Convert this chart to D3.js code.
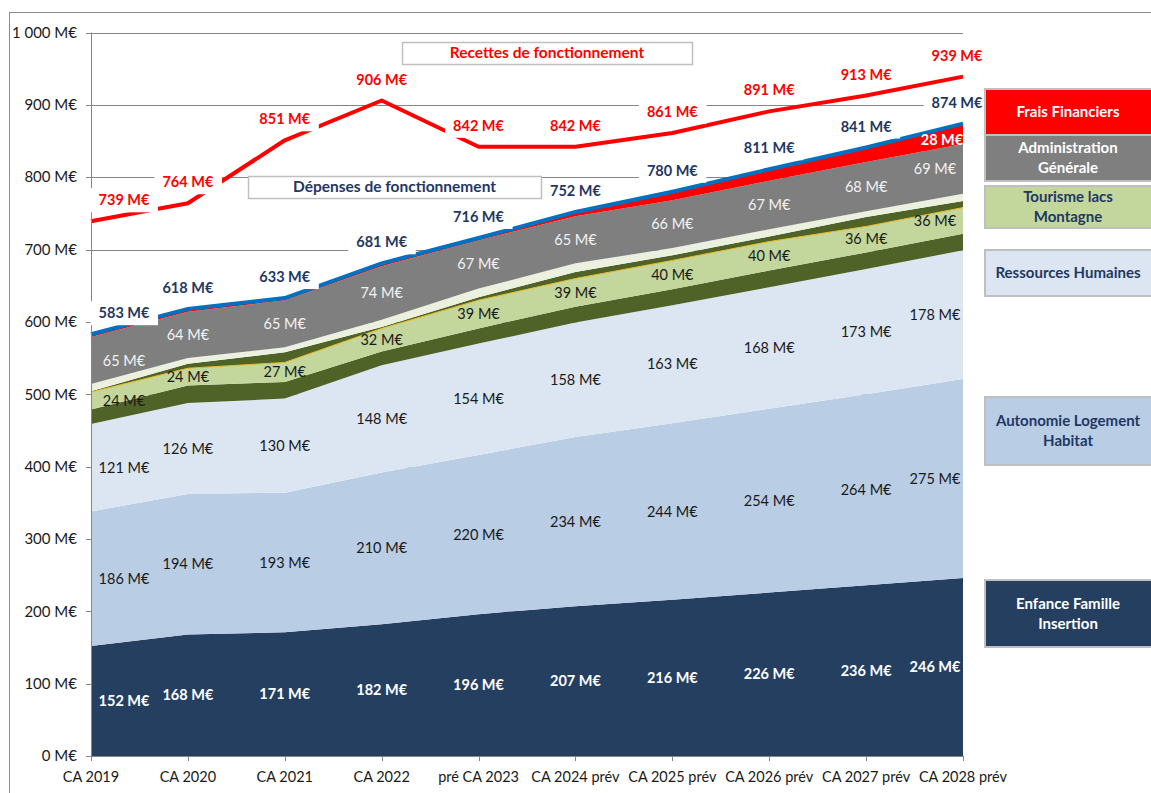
<!DOCTYPE html>
<html>
<head>
<meta charset="utf-8">
<script src="https://cdn.jsdelivr.net/npm/d3@7"></script>
<style>
  body { margin: 0; background: #fff; }
  svg { display: block; font-family: Lato, "Open Sans", sans-serif; }
</style>
</head>
<body>
<svg id="chart" width="1151" height="793"></svg>
<script>
// values (M€)
const categories = ["CA 2019", "CA 2020", "CA 2021", "CA 2022", "pré CA 2023",
                    "CA 2024 prév", "CA 2025 prév", "CA 2026 prév", "CA 2027 prév", "CA 2028 prév"];
const enfance         = [152, 168, 171, 182, 196, 207, 216, 226, 236, 246];
const autonomie       = [186, 194, 193, 210, 220, 234, 244, 254, 264, 275];
const ressources      = [121, 126, 130, 148, 154, 158, 163, 168, 173, 178];
const oliveBas        = [20, 24, 23, 19, 21, 22, 22, 23, 23, 23];
const tourisme        = [24, 24, 27, 32, 39, 39, 40, 40, 36, 36];
const oliveHaut       = [1, 6, 14, 2, 4, 9, 7, 7, 13, 9];
const creme           = [10, 8, 7, 10, 12, 12, 10, 10, 8, 10];
const administration  = [65, 64, 65, 74, 67, 65, 66, 67, 68, 69];
const fraisFinanciers = [4, 4, 3, 4, 3, 6, 12, 16, 20, 28];
const depenses        = [583, 618, 633, 681, 716, 752, 780, 811, 841, 874];
const recettes        = [739, 764, 851, 906, 842, 842, 861, 891, 913, 939];
const yTicks = [0, 100, 200, 300, 400, 500, 600, 700, 800, 900, 1000];
const yTickLabels = ["0 M€", "100 M€", "200 M€", "300 M€", "400 M€", "500 M€",
                     "600 M€", "700 M€", "800 M€", "900 M€", "1 000 M€"];

const legendNames = [
  ["Frais Financiers"],
  ["Administration", "Générale"],
  ["Tourisme lacs", "Montagne"],
  ["Ressources Humaines"],
  ["Autonomie Logement", "Habitat"],
  ["Enfance Famille", "Insertion"]
];

const svg = d3.select("#chart");
const left = 91, right = 963;

const x = d3.scalePoint().domain(categories).range([left, right]);
const y = d3.scaleLinear().domain([0, 1000]).range([756, 32.5]);

// outer chart frame
svg.append("rect")
   .attr("x", 9.5).attr("y", 12.5)
   .attr("width", 1200).attr("height", 800)
   .attr("fill", "none").attr("stroke", "#8c8c8c");

// gridlines
svg.append("g").selectAll("line")
   .data(yTicks.filter(d => d > 0))
   .enter().append("line")
   .attr("x1", left).attr("x2", right)
   .attr("y1", d => Math.round(y(d)) + 0.5)
   .attr("y2", d => Math.round(y(d)) + 0.5)
   .attr("stroke", "#868686");

// stacked areas
const layers = [
  {key: "enfance", values: enfance, fill: "#243F60"},
  {key: "autonomie", values: autonomie, fill: "#B9CDE5"},
  {key: "ressources", values: ressources, fill: "#DCE6F2"},
  {key: "oliveBas", values: oliveBas, fill: "#4F6228"},
  {key: "tourisme", values: tourisme, fill: "#C3D69B"},
  {key: "oliveHaut", values: oliveHaut, fill: "#4F6228"},
  {key: "creme", values: creme, fill: "#EBF1DE"},
  {key: "administration", values: administration, fill: "#7F7F7F"},
  {key: "fraisFinanciers", values: fraisFinanciers, fill: "#FF0000"}
];

const rows = categories.map(function(c, i) {
  const r = {cat: c};
  layers.forEach(function(l) { r[l.key] = l.values[i]; });
  return r;
});

const stack = d3.stack().keys(layers.map(l => l.key));
const series = stack(rows);

const area = d3.area()
  .x(d => x(d.data.cat))
  .y0(d => y(d[0]))
  .y1(d => y(d[1]));

svg.append("g").selectAll("path")
   .data(series)
   .enter().append("path")
   .attr("d", area)
   .attr("fill", (d, i) => layers[i].fill);

// thin yellow edge on top of tourisme
const tourSeries = series[layers.findIndex(l => l.key === "tourisme")];
svg.append("path")
   .datum(tourSeries)
   .attr("d", d3.line().x(d => x(d.data.cat)).y(d => y(d[1])))
   .attr("fill", "none")
   .attr("stroke", "#E8B923")
   .attr("stroke-width", 1);

// total expenses line and revenue line
const line = d3.line().x((d, i) => x(categories[i])).y(d => y(d));

svg.append("path")
   .datum(depenses)
   .attr("d", line)
   .attr("fill", "none")
   .attr("stroke", "#0070C0")
   .attr("stroke-width", 4);

svg.append("path")
   .datum(recettes)
   .attr("d", line)
   .attr("fill", "none")
   .attr("stroke", "#FF0000")
   .attr("stroke-width", 4)
   .attr("stroke-linejoin", "round");

// axes
svg.append("line")
   .attr("x1", left + 0.5).attr("x2", left + 0.5)
   .attr("y1", y(1000)).attr("y2", y(0))
   .attr("stroke", "#868686");
svg.append("line")
   .attr("x1", left).attr("x2", right)
   .attr("y1", y(0) + 0.5).attr("y2", y(0) + 0.5)
   .attr("stroke", "#868686");

svg.append("g").selectAll("line")
   .data(yTicks)
   .enter().append("line")
   .attr("x1", left - 5).attr("x2", left)
   .attr("y1", d => Math.round(y(d)) + 0.5)
   .attr("y2", d => Math.round(y(d)) + 0.5)
   .attr("stroke", "#868686");

svg.append("g").selectAll("line")
   .data(categories)
   .enter().append("line")
   .attr("x1", d => Math.round(x(d)) + 0.5)
   .attr("x2", d => Math.round(x(d)) + 0.5)
   .attr("y1", y(0)).attr("y2", y(0) + 5)
   .attr("stroke", "#868686");

svg.append("g").selectAll("text")
   .data(yTicks)
   .enter().append("text")
   .attr("x", 77)
   .attr("y", d => y(d))
   .attr("dy", "0.35em")
   .attr("text-anchor", "end")
   .attr("font-size", 15)
   .attr("fill", "#1a1a1a")
   .text((d, i) => yTickLabels[i]);

svg.append("g").selectAll("text")
   .data(categories)
   .enter().append("text")
   .attr("x", d => x(d))
   .attr("y", 777)
   .attr("dy", "0.35em")
   .attr("text-anchor", "middle")
   .attr("font-size", 14.5)
   .attr("fill", "#1a1a1a")
   .text(d => d);

// helper: label x, pulled inwards at the ends
function labelX(i, endShift) {
  if (i === 0) return x(categories[0]) + 33;
  if (i === categories.length - 1) return x(categories[i]) - endShift;
  return x(categories[i]);
}
function fmt(v) { return v + " M€"; }

// labels in the stacked layers
const labelStyle = {
  enfance: {fill: "#ffffff", weight: "bold"},
  autonomie: {fill: "#1a1a1a", weight: "normal"},
  ressources: {fill: "#1a1a1a", weight: "normal"},
  tourisme: {fill: "#1a1a1a", weight: "normal"},
  administration: {fill: "#f2f2f2", weight: "normal"},
  fraisFinanciers: {fill: "#ffffff", weight: "bold"}
};

const stackLabels = svg.append("g");
series.forEach(function(s) {
  const st = labelStyle[s.key];
  if (!st) return;
  s.forEach(function(d, i) {
    // frais financiers is only labelled at the last year
    if (s.key === "fraisFinanciers" && i !== categories.length - 1) return;
    stackLabels.append("text")
      .attr("x", labelX(i, s.key === "fraisFinanciers" ? 21 : 28))
      .attr("y", y((d[0] + d[1]) / 2) + (s.key === "fraisFinanciers" ? 6 : 0))
      .attr("dy", "0.35em")
      .attr("text-anchor", "middle")
      .attr("font-size", 14.5)
      .attr("font-weight", st.weight)
      .attr("fill", st.fill)
      .text(fmt(d[1] - d[0]));
  });
});

// boxed labels above the two lines
function boxedLabels(values, color) {
  const g = svg.append("g");
  values.forEach(function(v, i) {
    const cx = labelX(i, 6), cy = y(v) - 21;
    const box = g.append("rect").attr("fill", "#ffffff");
    const t = g.append("text")
      .attr("x", cx).attr("y", cy)
      .attr("dy", "0.35em")
      .attr("text-anchor", "middle")
      .attr("font-size", 14.5)
      .attr("font-weight", "bold")
      .attr("fill", color)
      .text(fmt(v));
    const bb = t.node().getBBox();
    box.attr("x", bb.x - 8).attr("y", cy - 12)
       .attr("width", bb.width + 16).attr("height", 24);
  });
}
boxedLabels(depenses, "#1F3864");
boxedLabels(recettes, "#FF0000");

// title boxes
function titleBox(x0, y0, w, h, txt, color) {
  svg.append("rect")
     .attr("x", x0 + 0.5).attr("y", y0 + 0.5)
     .attr("width", w).attr("height", h)
     .attr("fill", "#ffffff").attr("stroke", "#bfbfbf").attr("stroke-width", 1.5);
  svg.append("text")
     .attr("x", x0 + w / 2).attr("y", y0 + h / 2)
     .attr("dy", "0.35em")
     .attr("text-anchor", "middle")
     .attr("font-size", 15.5)
     .attr("font-weight", "bold")
     .attr("fill", color)
     .text(txt);
}
titleBox(402, 42, 290, 22, "Recettes de fonctionnement", "#FF0000");
titleBox(248, 176, 293, 22, "Dépenses de fonctionnement", "#1F3864");

// legend boxes on the right
const legendBoxes = [
  {top: 89, h: 46, fill: "#FF0000", color: "#ffffff"},
  {top: 135, h: 46, fill: "#7F7F7F", color: "#ffffff"},
  {top: 186, h: 42, fill: "#C3D69B", color: "#1F3864"},
  {top: 250, h: 46, fill: "#DCE6F2", color: "#1F3864"},
  {top: 397, h: 68, fill: "#B9CDE5", color: "#1F3864"},
  {top: 580, h: 67, fill: "#243F60", color: "#ffffff"}
];

const legend = svg.append("g");
legendBoxes.forEach(function(b, i) {
  legend.append("rect")
    .attr("x", 985).attr("y", b.top)
    .attr("width", 200).attr("height", b.h)
    .attr("fill", b.fill)
    .attr("stroke", "#bfbfbf").attr("stroke-width", 2);
  const lines = legendNames[i];
  lines.forEach(function(txt, k) {
    legend.append("text")
      .attr("x", 1068)
      .attr("y", b.top + b.h / 2 + (k - (lines.length - 1) / 2) * 20)
      .attr("dy", "0.35em")
      .attr("text-anchor", "middle")
      .attr("font-size", 15)
      .attr("font-weight", "bold")
      .attr("fill", b.color)
      .text(txt);
  });
});
</script>
</body>
</html>
